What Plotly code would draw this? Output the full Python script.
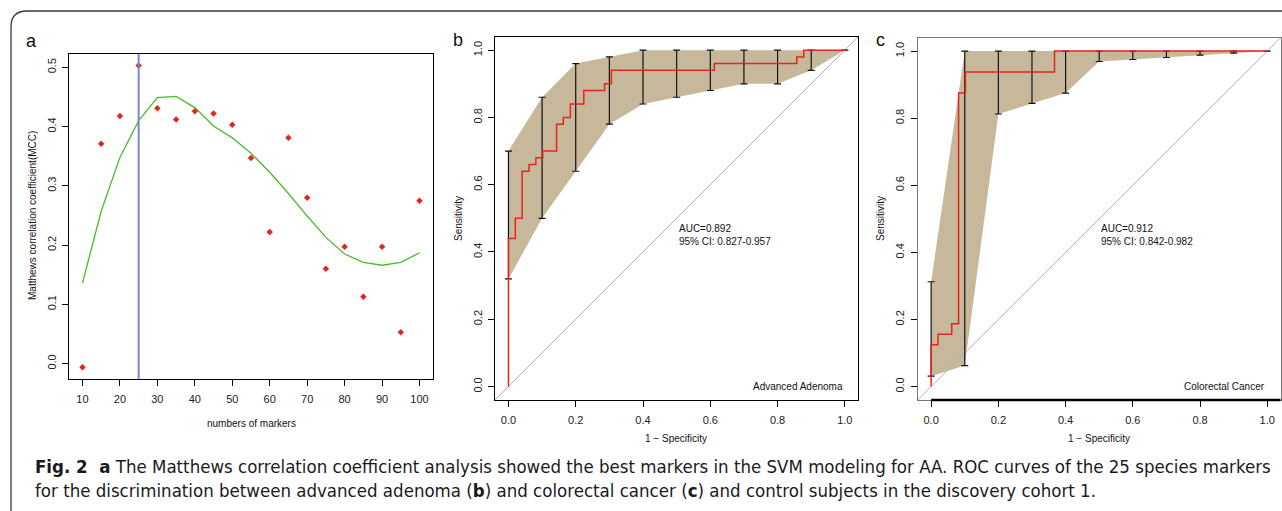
import plotly.graph_objects as go

W, H = 1282, 511

# ---------------- data ----------------
# Panel a: MCC vs number of markers
n_markers = [10, 15, 20, 25, 30, 35, 40, 45, 50, 55, 60, 65, 70, 75, 80, 85, 90, 95, 100]
mcc_points = [-0.006, 0.371, 0.418, 0.503, 0.431, 0.412, 0.426, 0.422, 0.403, 0.347,
              0.222, 0.381, 0.280, 0.160, 0.197, 0.113, 0.197, 0.053, 0.275]
mcc_fit = [0.136, 0.257, 0.348, 0.410, 0.449, 0.451, 0.432, 0.401, 0.381, 0.355,
           0.323, 0.287, 0.249, 0.213, 0.185, 0.171, 0.166, 0.171, 0.187]
best_n = 25

# Panel b: Advanced adenoma ROC
roc_b_fpr = [0, 0, 0.0204, 0.0408, 0.0612, 0.0816, 0.102, 0.143, 0.163, 0.184, 0.224,
             0.286, 0.306, 0.612, 0.857, 0.878, 1.0]
roc_b_tpr = [0, 0.44, 0.50, 0.64, 0.66, 0.68, 0.70, 0.78, 0.80, 0.84, 0.88,
             0.90, 0.94, 0.96, 0.98, 1.0, 1.0]
ci_x = [0, 0.1, 0.2, 0.3, 0.4, 0.5, 0.6, 0.7, 0.8, 0.9, 1.0]
ci_b_upper = [0.70, 0.86, 0.96, 0.98, 1.0, 1.0, 1.0, 1.0, 1.0, 1.0, 1.0]
ci_b_lower = [0.32, 0.50, 0.64, 0.78, 0.84, 0.86, 0.88, 0.90, 0.90, 0.94, 1.0]
auc_b_text = "AUC=0.892<br>95% CI: 0.827-0.957"
label_b = "Advanced Adenoma"

# Panel c: Colorectal cancer ROC
roc_c_fpr = [0, 0, 0.0204, 0.0612, 0.0816, 0.102, 0.367, 1.0]
roc_c_tpr = [0, 0.125, 0.156, 0.1875, 0.875, 0.9375, 1.0, 1.0]
ci_c_upper = [0.3125, 1.0, 1.0, 1.0, 1.0, 1.0, 1.0, 1.0, 1.0, 1.0, 1.0]
ci_c_lower = [0.031, 0.0625, 0.8125, 0.844, 0.875, 0.969, 0.975, 0.981, 0.988, 0.994, 1.0]
auc_c_text = "AUC=0.912<br>95% CI: 0.842-0.982"
label_c = "Colorectal Cancer"

ticks_a_x = [10, 20, 30, 40, 50, 60, 70, 80, 90, 100]
ticks_a_y = [0.0, 0.1, 0.2, 0.3, 0.4, 0.5]
ticks_roc = [0.0, 0.2, 0.4, 0.6, 0.8, 1.0]

caption_1 = ("<b>Fig. 2  a</b> The Matthews correlation coefficient analysis showed the best markers "
             "in the SVM modeling for AA. ROC curves of the 25 species markers")
caption_2 = ("for the discrimination between advanced adenoma (<b>b</b>) and colorectal cancer "
             "(<b>c</b>) and control subjects in the discovery cohort 1.")

# ---------------- styling ----------------
RED = "#e3261c"
TAN = "#c8b89b"
GREEN = "#4cbb2a"
BLUE = "#7d86c6"
GREY = "#b0b0b0"
FONT = "Liberation Sans, Arial, sans-serif"
CAP_FONT = "Liberation Sans Narrow, DejaVu Sans Condensed, Liberation Sans, sans-serif"


def px(x):
    return x / W


def py(y):
    return 1 - y / H


fig = go.Figure()

# Panel a
fig.add_trace(go.Scatter(x=n_markers, y=mcc_fit, mode="lines",
                         line=dict(color=GREEN, width=1.3), xaxis="x", yaxis="y",
                         showlegend=False))
fig.add_trace(go.Scatter(x=n_markers, y=mcc_points, mode="markers",
                         marker=dict(symbol="diamond", size=5, color=RED),
                         xaxis="x", yaxis="y", showlegend=False))


def roc_panel(xa, ya, fpr, tpr, up, lo):
    poly_x = ci_x + ci_x[::-1]
    poly_y = up + lo[::-1]
    fig.add_trace(go.Scatter(x=poly_x, y=poly_y, fill="toself", fillcolor=TAN,
                             mode="lines", line=dict(width=0, color=TAN),
                             xaxis=xa, yaxis=ya, showlegend=False, hoverinfo="skip"))
    fig.add_trace(go.Scatter(x=[-0.04, 1.04], y=[-0.04, 1.04], mode="lines",
                             line=dict(color=GREY, width=1), xaxis=xa, yaxis=ya,
                             showlegend=False))
    mids = [(u + l) / 2 for u, l in zip(up, lo)]
    halfs = [(u - l) / 2 for u, l in zip(up, lo)]
    fig.add_trace(go.Scatter(x=ci_x, y=mids, mode="markers",
                             marker=dict(size=1, color="rgba(0,0,0,0)"),
                             error_y=dict(type="data", array=halfs, visible=True,
                                          color="#111111", thickness=1.2, width=3.5),
                             xaxis=xa, yaxis=ya, showlegend=False))
    fig.add_trace(go.Scatter(x=fpr, y=tpr, mode="lines", line_shape="hv",
                             line=dict(color=RED, width=1.5), xaxis=xa, yaxis=ya,
                             showlegend=False))


roc_panel("x2", "y2", roc_b_fpr, roc_b_tpr, ci_b_upper, ci_b_lower)
roc_panel("x3", "y3", roc_c_fpr, roc_c_tpr, ci_c_upper, ci_c_lower)

tickfont = dict(family=FONT, size=11, color="#222222")


def xax(domain, rng, ticks, linecolor="black"):
    return dict(domain=domain, range=rng, tickvals=ticks, tickformat=".1f" if ticks[-1] <= 1 else "d",
                showline=True, mirror=True, linecolor=linecolor, linewidth=1,
                ticks="outside", ticklen=6, tickcolor="black", tickwidth=1,
                showgrid=False, zeroline=False, tickfont=tickfont, ticklabelstandoff=4)


def yax(domain, rng, ticks, anchor, linecolor="black"):
    return dict(domain=domain, range=rng, tickvals=ticks, tickformat=".1f",
                showline=True, mirror=True, linecolor=linecolor, linewidth=1,
                ticks="outside", ticklen=6, tickcolor="black", tickwidth=1,
                showgrid=False, zeroline=False, tickfont=tickfont, tickangle=-90,
                anchor=anchor, ticklabelstandoff=2)


layout = dict(
    width=W, height=H, margin=dict(l=0, r=0, t=0, b=0),
    paper_bgcolor="white", plot_bgcolor="white",
    xaxis=dict(xax([px(69), px(433)], [6.4, 103.6], ticks_a_x), anchor="y"),
    yaxis=yax([py(379), py(53.7)], [-0.026, 0.523], ticks_a_y, "x"),
    xaxis2=dict(xax([px(495), px(858.3)], [-0.04, 1.04], ticks_roc), anchor="y2"),
    yaxis2=yax([py(400), py(36.7)], [-0.04, 1.04], ticks_roc, "x2"),
    xaxis3=dict(xax([px(917.7), px(1280.7)], [-0.04, 1.04], ticks_roc, "#777777"), anchor="y3"),
    yaxis3=yax([py(400), py(37.7)], [-0.04, 1.04], ticks_roc, "x3", "#777777"),
    showlegend=False,
)
fig.update_layout(**layout)

# vertical line at best number of markers
fig.add_shape(type="line", xref="x", yref="y domain", x0=best_n, x1=best_n, y0=0, y1=1,
              line=dict(color=BLUE, width=2))
# thick black x axis line in panel c
fig.add_shape(type="line", xref="x3", yref="y3 domain", x0=0, x1=1.04, y0=0, y1=0,
              line=dict(color="black", width=2.5))

# outer rounded frame
fx, fy, r = 11, 11, 16
path = (f"M {px(fx)},{py(H)} L {px(fx)},{py(fy + r)} "
        f"Q {px(fx)},{py(fy)} {px(fx + r)},{py(fy)} L {px(W)},{py(fy)}")
fig.add_shape(type="path", xref="paper", yref="paper", path=path,
              line=dict(color="#3a3a3a", width=1.3))

ann = []
tf = dict(family=FONT, size=10, color="#111111")
# axis titles
ann.append(dict(x=px(251), y=py(423), text="numbers of markers", font=tf))
ann.append(dict(x=px(32), y=py(216), text="Matthews correlation coefficient(MCC)", font=tf, textangle=-90))
ann.append(dict(x=px(676), y=py(438), text="1 \u2212 Specificity", font=tf))
ann.append(dict(x=px(458), y=py(219), text="Sensitivity", font=tf, textangle=-90))
ann.append(dict(x=px(1099), y=py(438), text="1 \u2212 Specificity", font=tf))
ann.append(dict(x=px(880), y=py(219), text="Sensitivity", font=tf, textangle=-90))
# panel letters
lf = dict(family=FONT, size=18, color="#111111")
ann.append(dict(x=px(31), y=py(41), text="a", font=lf))
ann.append(dict(x=px(458), y=py(40), text="b", font=lf))
ann.append(dict(x=px(880), y=py(40), text="c", font=lf))
for a in ann:
    a.update(xref="paper", yref="paper", showarrow=False, xanchor="center", yanchor="middle")

# AUC texts and panel labels (data coords)
ann.append(dict(x=0.5, y=0.452, xref="x2", yref="y2", text=auc_b_text, font=tf, showarrow=False,
                xanchor="left", yanchor="middle", align="left"))
ann.append(dict(x=1.0, y=0.0, xref="x2", yref="y2", text=label_b, font=tf, showarrow=False,
                xanchor="right", yanchor="middle"))
ann.append(dict(x=0.5, y=0.452, xref="x3", yref="y3", text=auc_c_text, font=tf, showarrow=False,
                xanchor="left", yanchor="middle", align="left"))
ann.append(dict(x=1.0, y=0.0, xref="x3", yref="y3", text=label_c, font=tf, showarrow=False,
                xanchor="right", yanchor="middle"))

# caption
cf = dict(family=CAP_FONT, size=18.5, color="#1a1a1a")
ann.append(dict(x=px(33), y=py(466), xref="paper", yref="paper", text=caption_1, font=cf,
                showarrow=False, xanchor="left", yanchor="middle"))
ann.append(dict(x=px(33), y=py(490), xref="paper", yref="paper", text=caption_2, font=cf,
                showarrow=False, xanchor="left", yanchor="middle"))

fig.update_layout(annotations=ann)
fig.write_html("out.html")
